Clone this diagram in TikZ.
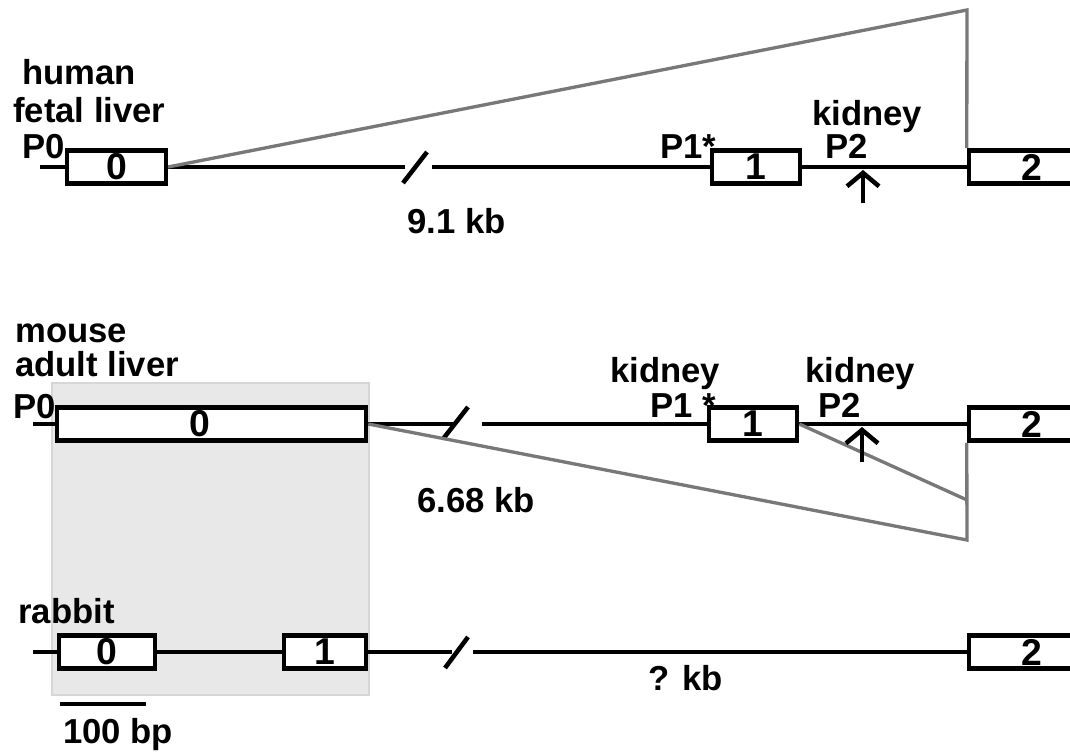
\documentclass[tikz,border=0pt]{standalone}
\usepackage{fontspec}
\setmainfont{Liberation Sans}
\usetikzlibrary{calc, arrows.meta, positioning}
\definecolor{splicegray}{HTML}{787878}
\definecolor{shadefill}{HTML}{E8E8E8}
\definecolor{shadeedge}{HTML}{D6D6D6}

\begin{document}
\begin{tikzpicture}[x=0.75pt, y=-0.75pt,
            exon/.style={draw, line width=3.4pt, fill=white, minimum height=25pt, inner sep=0pt,
                font=\bfseries\fontsize{28}{28}\selectfont},
            intron/.style={line width=3.4pt},
            splice/.style={line width=2.5pt, draw=splicegray},
            lbl/.style={font=\bfseries\fontsize{26}{28}\selectfont, inner sep=0pt, anchor=base west},
            site/.style={line width=3.4pt, -{Straight Barb[length=10pt, width=24pt]}}
        ]

            \path[use as bounding box] (0,0) rectangle (1070,753);
            \clip (0,0) rectangle (1070,753);

            \pgfmathsetmacro{\yh}{167}
            \pgfmathsetmacro{\ym}{424}
            \pgfmathsetmacro{\yr}{652}

            % shaded region
            \fill[shadefill, draw=shadeedge, line width=1.5pt] (52,383) rectangle (369,695);

            % human
            \node[exon, minimum width=74pt] (h0) at (116.5,\yh) {0};
            \node[exon, minimum width=66pt] (h1) at (756,\yh) {1};
            \node[exon, minimum width=94.5pt] (h2) at (1032,\yh) {2};
            \coordinate (hstart) at (40,\yh);
            \coordinate (hbreakL) at (405,\yh);
            \coordinate (hbreakR) at (432,\yh);
            \draw[intron] (hstart) -- (h0.west);
            \draw[intron] (h0.east) -- (hbreakL);
            \draw[intron] (403,183) -- (427,152);
            \draw[intron] (hbreakR) -- (h1.west);
            \draw[intron] (h1.east) -- (h2.west);
            \coordinate (happex) at (967,10);
            \draw[splice] (h0.east) -- (happex) -- (h2.north west);
            \coordinate (hsite) at (863,170);
            \draw[site] (863,203) -- (hsite);

            \node[lbl] (lhuman) at (22,84) {human};
            \node[lbl] (lfetal) at (13,122) {fetal liver};
            \node[lbl] (lhp0) at (22,158) {P0};
            \node[lbl] (lhp1) at (660,158) {P1*};
            \node[lbl] (lhkid) at (812,125) {kidney};
            \node[lbl] (lhp2) at (825,158) {P2};
            \node[lbl] (lhkb) at (407,233) {9.1 kb};

            % mouse
            \node[exon, minimum width=231.75pt] (m0) at (211.5,\ym) {\hspace*{-18pt}0};
            \node[exon, minimum width=66pt] (m1) at (753,\ym) {1};
            \node[exon, minimum width=94.5pt] (m2) at (1032,\ym) {2};
            \coordinate (mstart) at (33,\ym);
            \coordinate (mbreakL) at (453,\ym);
            \coordinate (mbreakR) at (482,\ym);
            \draw[intron] (mstart) -- (m0.west);
            \draw[intron] (m0.east) -- (mbreakL);
            \draw[intron] (443,439) -- (468,407);
            \draw[intron] (mbreakR) -- (m1.west);
            \draw[intron] (m1.east) -- (m2.west);
            \coordinate (mfoot) at (967,540);
            \coordinate (mknee) at (967,500);
            \draw[splice] (m0.east) -- (mfoot) -- (m2.south west);
            \draw[splice] (m1.east) -- (mknee);
            \coordinate (msite) at (862,427);
            \draw[site] (862,462) -- (msite);

            \node[lbl] (lmouse) at (15,342) {mouse};
            \node[lbl] (ladult) at (15,376) {adult liver};
            \node[lbl] (lmp0) at (13,418) {P0};
            \node[lbl] (lmkid1) at (610,382) {kidney};
            \node[lbl] (lmp1) at (650,417) {P1 *};
            \node[lbl] (lmkid2) at (805,382) {kidney};
            \node[lbl] (lmp2) at (818,417) {P2};
            \node[lbl] (lmkb) at (417,512) {6.68 kb};

            % rabbit
            \node[exon, minimum width=72pt] (r0) at (107,\yr) {0};
            \node[exon, minimum width=61.5pt] (r1) at (325,\yr) {1};
            \node[exon, minimum width=94.5pt] (r2) at (1032,\yr) {2};
            \coordinate (rstart) at (33,\yr);
            \coordinate (rbreakL) at (452,\yr);
            \coordinate (rbreakR) at (473,\yr);
            \draw[intron] (rstart) -- (r0.west);
            \draw[intron] (r0.east) -- (r1.west);
            \draw[intron] (r1.east) -- (rbreakL);
            \draw[intron] (445,668) -- (468,637);
            \draw[intron] (rbreakR) -- (r2.west);

            \node[lbl] (lrabbit) at (18,623) {rabbit};
            \node[lbl] (lrkb) at (648,690) {? kb};

            % scale bar
            \coordinate (sbL) at (60,704);
            \coordinate (sbR) at (146,704);
            \draw[intron] (sbL) -- (sbR);
            \node[lbl] (lscale) at (63,743) {100 bp};
        \end{tikzpicture}
\end{document}
